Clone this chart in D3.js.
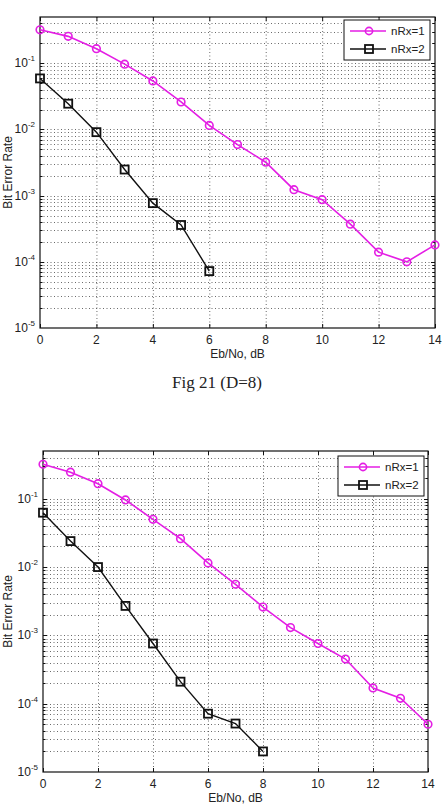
<!DOCTYPE html>
<html>
<head>
<meta charset="utf-8">
<script src="https://cdn.jsdelivr.net/npm/d3@7"></script>
<style>
  body { margin: 0; background: #fff; }
  svg { display: block; }
  text { font-family: "Liberation Sans", Arial, Helvetica, sans-serif; fill: #222; }
</style>
</head>
<body>
<svg id="canvas"></svg>
<script>
let width = 444;
let height = 810;

// data
let ebno = [0, 1, 2, 3, 4, 5, 6, 7, 8, 9, 10, 11, 12, 13, 14];

let fig21Rx1 = [0.32, 0.255, 0.166, 0.097, 0.054, 0.026, 0.0115, 0.0059, 0.0032, 0.00123, 0.00087, 0.00037, 0.00014, 0.0001, 0.00018];
let fig21Rx2 = [0.059, 0.0245, 0.0091, 0.00248, 0.00077, 0.00036, 0.0000724];

let fig22Rx1 = [0.32, 0.245, 0.166, 0.096, 0.05, 0.026, 0.0115, 0.0056, 0.0026, 0.0013, 0.00076, 0.00045, 0.00017, 0.00012, 0.00005];
let fig22Rx2 = [0.0625, 0.024, 0.01, 0.0027, 0.00076, 0.00021, 0.0000714, 0.0000512, 0.00002];

let xTicks = [0, 2, 4, 6, 8, 10, 12, 14];
let yExps = [-1, -2, -3, -4, -5];
let seriesNames = ['nRx=1', 'nRx=2'];

let yMin = 1e-5;
let yMax = 0.5;

let magenta = '#e41ee4';

let canvas = d3.select('#canvas')
  .attr('width', width)
  .attr('height', height);

// minor log positions 2..9 x 10^k inside the domain
let minorVals = [];
for (let e = -5; e <= -1; e++) {
  for (let m = 1; m <= 9; m++) {
    let v = m * Math.pow(10, e);
    if (v > yMin && v < yMax) minorVals.push(v);
  }
}

let drawPanel = (box, rx1, rx2, caption) => {
  let g = canvas.append('g');

  let xScale = d3.scaleLinear()
    .domain([0, 14])
    .range([box.left, box.right]);

  let yScale = d3.scaleLog()
    .domain([yMin, yMax])
    .range([box.bottom, box.top]);

  // grid, dotted
  let grid = g.append('g')
    .attr('stroke', '#444')
    .attr('stroke-width', 0.8)
    .attr('stroke-dasharray', '1,2.5');

  grid.selectAll('line.gx')
    .data(xTicks.slice(1, -1))
    .enter()
    .append('line')
    .attr('x1', (d) => xScale(d) + 0.5)
    .attr('x2', (d) => xScale(d) + 0.5)
    .attr('y1', box.top)
    .attr('y2', box.bottom);

  grid.selectAll('line.gy')
    .data(minorVals)
    .enter()
    .append('line')
    .attr('x1', box.left)
    .attr('x2', box.right)
    .attr('y1', (d) => Math.round(yScale(d)) + 0.5)
    .attr('y2', (d) => Math.round(yScale(d)) + 0.5);

  // tick marks inside the box
  let ticks = g.append('g').attr('stroke', '#111').attr('stroke-width', 1);
  xTicks.forEach((t) => {
    let x = xScale(t) + 0.5;
    ticks.append('line').attr('x1', x).attr('x2', x).attr('y1', box.bottom).attr('y2', box.bottom - 4);
    ticks.append('line').attr('x1', x).attr('x2', x).attr('y1', box.top).attr('y2', box.top + 4);
  });
  minorVals.forEach((v) => {
    let y = Math.round(yScale(v)) + 0.5;
    let major = Math.abs(Math.log10(v) - Math.round(Math.log10(v))) < 1e-9;
    let len = major ? 4 : 2.5;
    ticks.append('line').attr('x1', box.left).attr('x2', box.left + len).attr('y1', y).attr('y2', y);
    ticks.append('line').attr('x1', box.right).attr('x2', box.right - len).attr('y1', y).attr('y2', y);
  });

  // frame
  g.append('rect')
    .attr('x', box.left)
    .attr('y', box.top)
    .attr('width', box.right - box.left)
    .attr('height', box.bottom - box.top)
    .attr('fill', 'none')
    .attr('stroke', '#111')
    .attr('stroke-width', 1.2);

  // x tick labels
  g.selectAll('text.xt')
    .data(xTicks)
    .enter()
    .append('text')
    .attr('x', (d) => xScale(d))
    .attr('y', box.bottom + 16)
    .attr('text-anchor', 'middle')
    .attr('font-size', 12)
    .text((d) => d);

  // y tick labels 10^k
  yExps.forEach((e) => {
    let t = g.append('text')
      .attr('x', box.left - 5)
      .attr('y', yScale(Math.pow(10, e)) + 4)
      .attr('text-anchor', 'end')
      .attr('font-size', 12);
    t.append('tspan').text('10');
    t.append('tspan').attr('dy', -6).attr('font-size', 8).text(e);
  });

  // axis titles
  g.append('text')
    .attr('x', (box.left + box.right) / 2)
    .attr('y', box.bottom + 30)
    .attr('text-anchor', 'middle')
    .attr('font-size', 12)
    .text('Eb/No, dB');

  g.append('text')
    .attr('transform', 'translate(' + 12 + ',' + ((box.top + box.bottom) / 2) + ') rotate(-90)')
    .attr('text-anchor', 'middle')
    .attr('font-size', 12)
    .text('Bit Error Rate');

  let line = d3.line()
    .x((d) => xScale(d[0]))
    .y((d) => yScale(d[1]));

  let pts1 = rx1.map((v, i) => [ebno[i], v]);
  let pts2 = rx2.map((v, i) => [ebno[i], v]);

  let plot = g.append('g');

  plot.append('path')
    .datum(pts1)
    .attr('d', line)
    .attr('fill', 'none')
    .attr('stroke', magenta)
    .attr('stroke-width', 1.6);

  plot.selectAll('circle')
    .data(pts1)
    .enter()
    .append('circle')
    .attr('cx', (d) => xScale(d[0]))
    .attr('cy', (d) => yScale(d[1]))
    .attr('r', 3.8)
    .attr('fill', 'none')
    .attr('stroke', magenta)
    .attr('stroke-width', 1.6);

  plot.append('path')
    .datum(pts2)
    .attr('d', line)
    .attr('fill', 'none')
    .attr('stroke', '#111')
    .attr('stroke-width', 1.4);

  plot.selectAll('rect.sq')
    .data(pts2)
    .enter()
    .append('rect')
    .attr('x', (d) => xScale(d[0]) - 4)
    .attr('y', (d) => yScale(d[1]) - 4)
    .attr('width', 8)
    .attr('height', 8)
    .attr('fill', 'none')
    .attr('stroke', '#111')
    .attr('stroke-width', 1.8);

  // legend
  let lg = g.append('g').attr('transform', 'translate(' + box.legX + ',' + box.legY + ')');
  lg.append('rect')
    .attr('width', 86)
    .attr('height', 40)
    .attr('fill', '#fff')
    .attr('stroke', '#111')
    .attr('stroke-width', 1);

  seriesNames.forEach((name, i) => {
    let y = 11 + i * 18;
    let col = i == 0 ? magenta : '#111';
    lg.append('line')
      .attr('x1', 6).attr('x2', 42)
      .attr('y1', y).attr('y2', y)
      .attr('stroke', col)
      .attr('stroke-width', 1.6);
    if (i == 0) {
      lg.append('circle').attr('cx', 25).attr('cy', y).attr('r', 3.6)
        .attr('fill', 'none').attr('stroke', col).attr('stroke-width', 1.6);
    } else {
      lg.append('rect').attr('x', 21).attr('y', y - 4).attr('width', 8).attr('height', 8)
        .attr('fill', 'none').attr('stroke', col).attr('stroke-width', 1.8);
    }
    lg.append('text')
      .attr('x', 47)
      .attr('y', y + 4)
      .attr('font-size', 11.5)
      .text(name);
  });

  if (caption) {
    canvas.append('text')
      .attr('x', 217)
      .attr('y', box.bottom + 60)
      .attr('text-anchor', 'middle')
      .attr('font-size', 17)
      .style('font-family', '"Liberation Serif", "Times New Roman", serif')
      .text(caption);
  }
}

drawPanel({ left: 40, top: 17, right: 435, bottom: 328, legX: 344, legY: 20 }, fig21Rx1, fig21Rx2, 'Fig 21 (D=8)');
drawPanel({ left: 43, top: 451, right: 428, bottom: 772, legX: 338, legY: 456 }, fig22Rx1, fig22Rx2, null);
</script>
</body>
</html>
